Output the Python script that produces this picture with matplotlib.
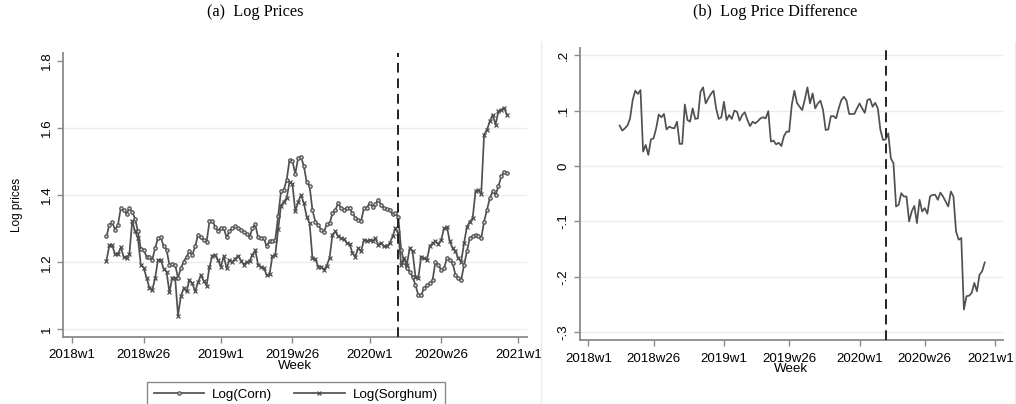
import numpy as np
import matplotlib
matplotlib.use("Agg")
import matplotlib.pyplot as plt
import matplotlib.transforms as mtransforms
from matplotlib.lines import Line2D

plt.rcParams['font.family'] = ['Liberation Sans', 'DejaVu Sans']

# weekly observations; index counts weeks from 2018w1 (first obs = 2018w13)
first_week = 12

log_corn = [
    1.277, 1.311, 1.319, 1.297, 1.311, 1.361, 1.356, 1.344, 1.361, 1.349,
    1.330, 1.292, 1.240, 1.237, 1.217, 1.217, 1.207, 1.242, 1.272, 1.274,
    1.247, 1.237, 1.192, 1.194, 1.192, 1.154, 1.182, 1.202, 1.217, 1.232,
    1.222, 1.247, 1.282, 1.274, 1.267, 1.260, 1.322, 1.324, 1.306, 1.294,
    1.303, 1.301, 1.274, 1.292, 1.301, 1.308, 1.301, 1.297, 1.290, 1.284,
    1.275, 1.301, 1.313, 1.274, 1.272, 1.272, 1.247, 1.264, 1.262, 1.267,
    1.337, 1.411, 1.416, 1.446, 1.506, 1.501, 1.464, 1.511, 1.515, 1.486,
    1.439, 1.426, 1.356, 1.321, 1.311, 1.297, 1.290, 1.313, 1.316, 1.346,
    1.356, 1.376, 1.361, 1.356, 1.363, 1.361, 1.346, 1.333, 1.326, 1.323,
    1.361, 1.363, 1.376, 1.366, 1.373, 1.386, 1.371, 1.361, 1.359, 1.356,
    1.343, 1.346, 1.336, 1.237, 1.202, 1.182, 1.172, 1.157, 1.132, 1.102,
    1.102, 1.122, 1.132, 1.137, 1.147, 1.202, 1.192, 1.177, 1.182, 1.212,
    1.207, 1.197, 1.162, 1.154, 1.147, 1.192, 1.232, 1.272, 1.277, 1.282,
    1.277, 1.272, 1.321, 1.356, 1.391, 1.411, 1.401, 1.426, 1.456, 1.469,
    1.466,
]

log_sorghum = [
    1.205, 1.250, 1.250, 1.224, 1.224, 1.244, 1.217, 1.214, 1.224, 1.323,
    1.292, 1.272, 1.192, 1.184, 1.154, 1.124, 1.117, 1.152, 1.207, 1.207,
    1.180, 1.172, 1.110, 1.154, 1.154, 1.041, 1.099, 1.122, 1.113, 1.147,
    1.137, 1.113, 1.140, 1.161, 1.145, 1.130, 1.186, 1.220, 1.221, 1.206,
    1.187, 1.218, 1.182, 1.207, 1.201, 1.210, 1.219, 1.205, 1.193, 1.201,
    1.203, 1.221, 1.236, 1.193, 1.186, 1.184, 1.161, 1.165, 1.218, 1.221,
    1.298, 1.369, 1.380, 1.392, 1.439, 1.433, 1.352, 1.380, 1.401, 1.376,
    1.336, 1.316, 1.212, 1.210, 1.187, 1.187, 1.177, 1.190, 1.214, 1.282,
    1.292, 1.277, 1.272, 1.270, 1.257, 1.254, 1.227, 1.217, 1.242, 1.232,
    1.267, 1.264, 1.267, 1.262, 1.272, 1.252, 1.257, 1.247, 1.247, 1.257,
    1.277, 1.301, 1.288, 1.192, 1.212, 1.192, 1.242, 1.232, 1.157, 1.152,
    1.217, 1.212, 1.207, 1.247, 1.257, 1.262, 1.254, 1.267, 1.301, 1.306,
    1.262, 1.242, 1.232, 1.212, 1.202, 1.257, 1.306, 1.321, 1.331, 1.411,
    1.416, 1.403, 1.580, 1.595, 1.620, 1.640, 1.610, 1.650, 1.655, 1.660,
    1.640,
]

log_diff = [
    .073, .064, .068, .073, .086, .119, .136, .130, .137, .026,
    .038, .020, .048, .050, .068, .093, .088, .094, .066, .071,
    .069, .068, .080, .040, .040, .111, .083, .080, .104, .085,
    .086, .134, .142, .113, .122, .130, .136, .104, .085, .088,
    .116, .083, .092, .085, .100, .098, .082, .092, .097, .083,
    .072, .080, .077, .081, .086, .088, .086, .099, .044, .046,
    .039, .042, .036, .054, .062, .062, .110, .136, .114, .107,
    .101, .120, .142, .113, .131, .104, .113, .118, .101, .065,
    .066, .090, .090, .086, .104, .119, .125, .118, .094, .094,
    .094, .104, .113, .104, .096, .119, .121, .107, .114, .104,
    .065, .047, .048, .059, .014, .005, -.073, -.070, -.049, -.055,
    -.055, -.100, -.082, -.072, -.103, -.061, -.082, -.076, -.086, -.055,
    -.052, -.052, -.061, -.048, -.055, -.064, -.073, -.046, -.055, -.118,
    -.133, -.130, -.259, -.235, -.234, -.229, -.211, -.226, -.196, -.190,
    -.174,
]

tick_weeks = [0, 25, 52, 77, 104, 129, 156]
tick_labels = ["2018w1", "2018w26", "2019w1", "2019w26", "2020w1", "2020w26", "2021w1"]
break_week = 114  # 2020w11

left_yticks = [1.0, 1.2, 1.4, 1.6, 1.8]
left_ylabels = ["1", "1.2", "1.4", "1.6", "1.8"]
right_yticks = [-.3, -.2, -.1, 0, .1, .2]
right_ylabels = ["-.3", "-.2", "-.1", "0", ".1", ".2"]

weeks = np.arange(first_week, first_week + len(log_corn))

line_col = '#505050'
axis_col = '#8a8a8a'
grid_col = '#ececec'

W, H = 1016, 404
fig = plt.figure(figsize=(W / 100, H / 100), dpi=100)


def px_box(x0, y0, x1, y1):
    return [x0 / W, 1 - y1 / H, (x1 - x0) / W, (y1 - y0) / H]


def style_axis(ax, yticks, ylabels):
    ax.set_xlim(-3.2, 159)
    ax.set_xticks(tick_weeks)
    ax.set_xticklabels(tick_labels, fontsize=9.6)
    ax.set_yticks(yticks)
    ax.set_yticklabels(ylabels, rotation=90, va='center', fontsize=9.6)
    for s in ['top', 'right']:
        ax.spines[s].set_visible(False)
    for s in ['left', 'bottom']:
        ax.spines[s].set_color(axis_col)
        ax.spines[s].set_linewidth(1.3)
    ax.tick_params(color=axis_col, length=4, width=1)
    ax.tick_params(axis='x', pad=5)
    ax.grid(axis='y', color=grid_col, lw=1)
    ax.set_axisbelow(True)
    ax.set_xlabel('Week', fontsize=9.6, labelpad=-1)
    ax.axvline(break_week, color='#222222', lw=1.4, ls=(0, (5, 3)), zorder=3)


# (a) log prices
ax1 = fig.add_axes(px_box(63, 53, 527, 337))
ax1.plot(weeks, log_corn, color=line_col, lw=1.25, marker='o', ms=2.4,
         mfc='#d8d8d8', mec=line_col, mew=0.9)
ax1.plot(weeks, log_sorghum, color=line_col, lw=1.25, marker='x', ms=2.8,
         mew=0.9)
ax1.set_ylim(0.977, 1.824)
style_axis(ax1, left_yticks, left_ylabels)
ax1.get_ygridlines()[-1].set_visible(False)
ax1.set_ylabel('Log prices', fontsize=8.5)
ax1.yaxis.set_label_coords(-0.086, 0.465)

# (b) log price difference
ax2 = fig.add_axes(px_box(580, 48, 1003, 340))
ax2.plot(weeks, log_diff, color=line_col, lw=1.25)
ax2.set_ylim(-0.314, 0.213)
style_axis(ax2, right_yticks, right_ylabels)
# last tick label sits on the figure edge, right-align it just inside
last = ax2.get_xticklabels()[-1]
last.set_ha('right')
last.set_transform(last.get_transform() +
                   mtransforms.ScaledTranslation(0.19, 0, fig.dpi_scale_trans))

fig.text(255 / W, 1 - 12 / H, '(a)  Log Prices', ha='center', va='center',
         family='Liberation Serif', fontsize=11.7)
fig.text(775 / W, 1 - 12 / H, '(b)  Log Price Difference', ha='center',
         va='center', family='Liberation Serif', fontsize=11.7)

# light frame of the second graph region
for xpix in (541, 1015):
    fig.add_artist(Line2D([xpix / W, xpix / W], [0, 1 - 42 / H],
                          color='#ededed', lw=1))

handles = [
    Line2D([], [], color=line_col, lw=1.25, marker='o', ms=2.4, mfc='#d8d8d8',
           mec=line_col, mew=0.9),
    Line2D([], [], color=line_col, lw=1.25, marker='x', ms=2.8, mew=0.9),
]
fig.legend(handles, ['Log(Corn)', 'Log(Sorghum)'], loc='upper left',
           bbox_to_anchor=(147 / W, 1 - 382 / H), ncol=2, fontsize=9.6,
           frameon=True, fancybox=False, edgecolor=axis_col, framealpha=1,
           borderpad=0.5, handlelength=3.8, handletextpad=0.6,
           columnspacing=1.6, borderaxespad=0)

fig.savefig('out.png', dpi=100)
